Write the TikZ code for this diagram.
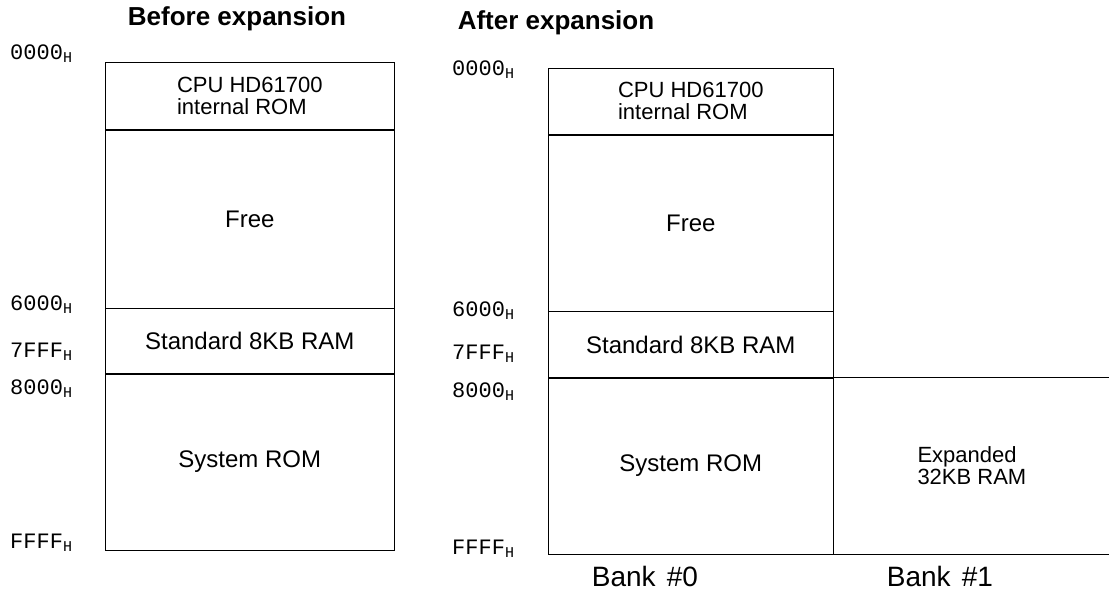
\documentclass[tikz,border=0pt]{standalone}
\usepackage{fontspec}
\setmainfont{Liberation Sans}
\newfontfamily\addrfont{Liberation Mono}
\usetikzlibrary{positioning}
\tikzset{
    memory map/.style  = {x=1pt, y=-1pt},
    region/.style      = {draw, semithick, anchor=north west, inner sep=0pt,
                          font=\fontsize{24}{26}\selectfont, align=center},
    small region/.style = {region, align=left,
                          font=\fontsize{22}{22}\selectfont},
    open region/.style = {small region, draw=none},
    title/.style       = {font=\bfseries\fontsize{26}{28}\selectfont},
    bank/.style        = {font=\fontsize{28}{30}\selectfont},
    addr/.style        = {anchor=west, inner sep=0pt,
                          font=\addrfont\fontsize{22}{24}\selectfont}
}
\newcommand{\addr}[1]{#1\textsubscript{\fontsize{15}{15}\selectfont H}}
\def\leftwidth{289pt}
\def\rightwidth{285pt}

\begin{document}
\begin{tikzpicture}[memory map]
\useasboundingbox (0,0) rectangle (1109,593);

\node[title] (before) at (237,19) {Before expansion};
\node[small region,minimum width=\leftwidth,minimum height=67pt] (lcpu) at (105,62)
    {CPU HD61700\\internal ROM};
\node[region,minimum width=\leftwidth,minimum height=178pt] (lfree) at (lcpu.south west) {Free};
\node[region,minimum width=\leftwidth,minimum height=65pt] (lram) at (lfree.south west) {Standard 8KB RAM};
\node[region,minimum width=\leftwidth,minimum height=176pt] (lsys) at (lram.south west) {System ROM};
\foreach \addrtext/\ypos in {0000/54,6000/305,7FFF/352,8000/389,FFFF/543}
    \node[addr] (laddr\addrtext) at (10,\ypos) {\addr{\addrtext}};

\node[title] (after) at (556,23) {After expansion};
\node[small region,minimum width=\rightwidth,minimum height=66pt] (rcpu) at (548,68)
    {CPU HD61700\\internal ROM};
\node[region,minimum width=\rightwidth,minimum height=176pt] (rfree) at (rcpu.south west) {Free};
\node[region,minimum width=\rightwidth,minimum height=66pt] (rram) at (rfree.south west) {Standard 8KB RAM};
\node[region,minimum width=\rightwidth,minimum height=176pt] (rsys) at (rram.south west) {System ROM};
\node[open region,minimum width=276pt,minimum height=176pt] (bank1) at (rsys.north east)
    {Expanded\\32KB RAM};
\draw[semithick] (bank1.north west) -- (bank1.north east);
\draw[semithick] (bank1.south west) -- (bank1.south east);
\foreach \addrtext/\ypos in {0000/70,6000/311,7FFF/354,8000/392,FFFF/549}
    \node[addr] (raddr\addrtext) at (452,\ypos) {\addr{\addrtext}};

\node[bank] (bankzero) at (645,576) {Bank\hspace{0.4em}\#0};
\node[bank] (bankone) at (940,576) {Bank\hspace{0.4em}\#1};
\end{tikzpicture}
\end{document}
